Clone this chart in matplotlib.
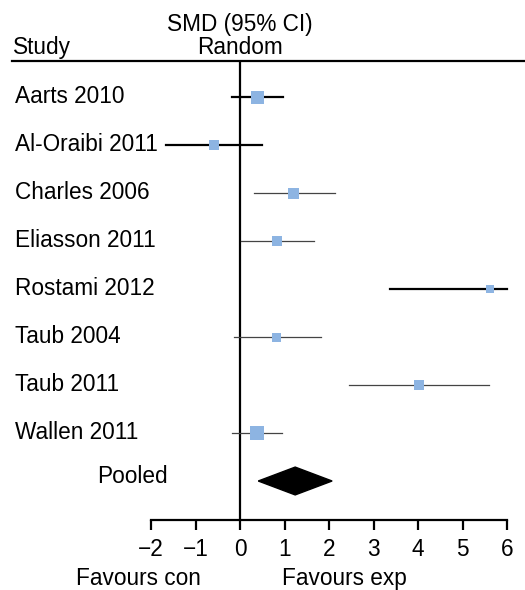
import matplotlib
matplotlib.use("Agg")
import matplotlib.pyplot as plt
from matplotlib.lines import Line2D
from matplotlib.patches import Polygon

plt.rcParams['font.family'] = ['Liberation Sans', 'DejaVu Sans']

# study data (SMD, 95% CI)
studies = ["Aarts 2010", "Al-Oraibi 2011", "Charles 2006", "Eliasson 2011",
           "Rostami 2012", "Taub 2004", "Taub 2011", "Wallen 2011"]
smd = [0.39, -0.59, 1.20, 0.83, 5.62, 0.81, 4.02, 0.38]
ci_low = [-0.18, -1.67, 0.32, 0.02, 3.36, -0.14, 2.45, -0.18]
ci_high = [0.96, 0.50, 2.13, 1.67, 5.99, 1.81, 5.60, 0.94]
weight = [13, 10, 11, 10, 8, 9, 10, 14]   # relative square size

pooled_smd = 1.24
pooled_low = 0.41
pooled_high = 2.07

xticks = [-2, -1, 0, 1, 2, 3, 4, 5, 6]

W, H = 525, 590
fs = 16.3
sq_color = '#8db4e2'

fig = plt.figure(figsize=(W / 100, H / 100), dpi=100)


def px_text(x, y, s, ha='left'):
    # place text by pixel position (top-left origin), y is baseline
    fig.text(x / W, 1 - y / H, s, ha=ha, va='baseline', fontsize=fs)


# axes: x -2..6 spans px 151..507, rows from header line (61) to axis (520)
ax = fig.add_axes([151 / W, 1 - 520 / H, (507 - 151) / W, (520 - 61) / H])
row0, step = 97, 48
ax.set_xlim(-2, 6)
ax.set_ylim((520 - row0) / step, (61 - row0) / step)

for s in ['top', 'right', 'left']:
    ax.spines[s].set_visible(False)
ax.spines['bottom'].set_linewidth(1.6)
ax.set_yticks([])
ax.set_xticks(xticks)
ax.set_xticklabels([str(t).replace('-', '\u2212') for t in xticks])
ax.tick_params(axis='x', direction='out', length=7, width=1.6, labelsize=fs, pad=6)

# line of no effect
ax.axvline(0, color='black', lw=1.6, zorder=1)

for i, name in enumerate(studies):
    thick = i in (0, 1, 4)
    ax.plot([ci_low[i], ci_high[i]], [i, i], color='black' if thick else '#444444',
            lw=1.6 if thick else 0.9, clip_on=False, zorder=2)
    ax.plot(smd[i], i, marker='s', markersize=weight[i] * 0.72, color=sq_color,
            markeredgewidth=0, clip_on=False, zorder=3)
    px_text(15, row0 + step * i + 6, name)

# pooled diamond
py = len(studies)
h = 0.29
ax.add_patch(Polygon([[pooled_low, py], [pooled_smd, py - h], [pooled_high, py],
                      [pooled_smd, py + h]], closed=True, color='black', zorder=3))
px_text(97, 483, "Pooled")

# header
fig.add_artist(Line2D([12 / W, 1], [1 - 61 / H, 1 - 61 / H], color='black', lw=1.6))
px_text(240, 31, "SMD (95% CI)", ha='center')
px_text(240, 54, "Random", ha='center')
px_text(13, 54, "Study")

px_text(138, 585, "Favours con", ha='center')
px_text(344, 585, "Favours exp", ha='center')

fig.savefig("out.png", dpi=100)
